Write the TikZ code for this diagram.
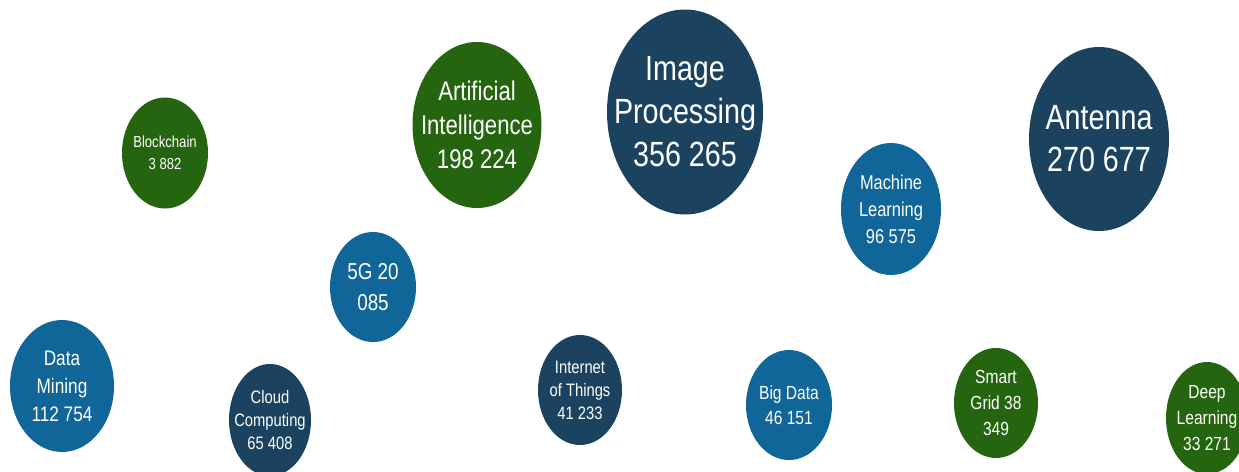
\documentclass[tikz,border=0pt]{standalone}
\usepackage{fontspec}
\setmainfont{Liberation Sans}[FakeStretch=0.82]
\usetikzlibrary{shapes.geometric}
\definecolor{topicgreen}{RGB}{38, 101, 16}
\definecolor{topicnavy}{RGB}{27, 67, 96}
\definecolor{topicblue}{RGB}{16, 102, 152}

\begin{document}
\begin{tikzpicture}[x=1pt, y=-1pt,
    bubble/.style 2 args={ellipse, minimum width=#1, minimum height=#2, inner sep=0pt},
    txt/.style={text=white, align=center, inner sep=0pt}]
                    \useasboundingbox (0,0) rectangle (1239,471);
                    % Top row
                    \node[bubble={86pt}{111pt}, fill=topicgreen, label={[txt, font=\fontsize{16}{22}\selectfont]center:{Blockchain\\3 882}}] (blockchain) at (165,153) {};
                    \node[bubble={129pt}{166pt}, fill=topicgreen, label={[txt, font=\fontsize{27}{34}\selectfont]center:{Artificial\\Intelligence\\198 224}}] (ai) at (477,125) {};
                    \node[bubble={156pt}{205pt}, fill=topicnavy, label={[txt, font=\fontsize{35}{43}\selectfont]center:{Image\\Processing\\356 265}}] (imgproc) at (685,112) {};
                    \node[bubble={140pt}{184pt}, fill=topicnavy, label={[txt, font=\fontsize{35}{42}\selectfont]center:{Antenna\\270 677}}] (antenna) at (1099,139) {};
                    \node[bubble={100pt}{132pt}, fill=topicblue, label={[txt, font=\fontsize{20}{27}\selectfont]center:{Machine\\Learning\\96 575}}] (ml) at (891,209) {};
                    
                    % Middle
                    \node[bubble={86pt}{110pt}, fill=topicblue, label={[txt, font=\fontsize{23}{31}\selectfont]center:{5G 20\\085}}] (fiveg) at (373,287) {};
                    
                    % Bottom row
                    \node[bubble={104pt}{132pt}, fill=topicblue, label={[txt, font=\fontsize{21}{28}\selectfont]center:{Data\\Mining\\112 754}}] (datamining) at (62,386) {};
                    \node[bubble={82pt}{112pt}, fill=topicnavy, label={[txt, font=\fontsize{18}{23}\selectfont]center:{Cloud\\Computing\\65 408}}] (cloud) at (270,420) {};
                    \node[bubble={84pt}{110pt}, fill=topicnavy, label={[txt, font=\fontsize{18}{23}\selectfont]center:{Internet\\of Things\\41 233}}] (iot) at (580,390) {};
                    \node[bubble={86pt}{110pt}, fill=topicblue, label={[txt, font=\fontsize{19}{25}\selectfont]center:{Big Data\\46 151}}] (bigdata) at (789,405) {};
                    \node[bubble={84pt}{110pt}, fill=topicgreen, label={[txt, font=\fontsize{19}{26}\selectfont]center:{Smart\\Grid 38\\349}}] (smartgrid) at (996,403) {};
                    \node[bubble={82pt}{112pt}, fill=topicgreen, label={[txt, font=\fontsize{19}{26}\selectfont]center:{Deep\\Learning\\33 271}}] (deeplearning) at (1207,418) {};
                \end{tikzpicture}
\end{document}
